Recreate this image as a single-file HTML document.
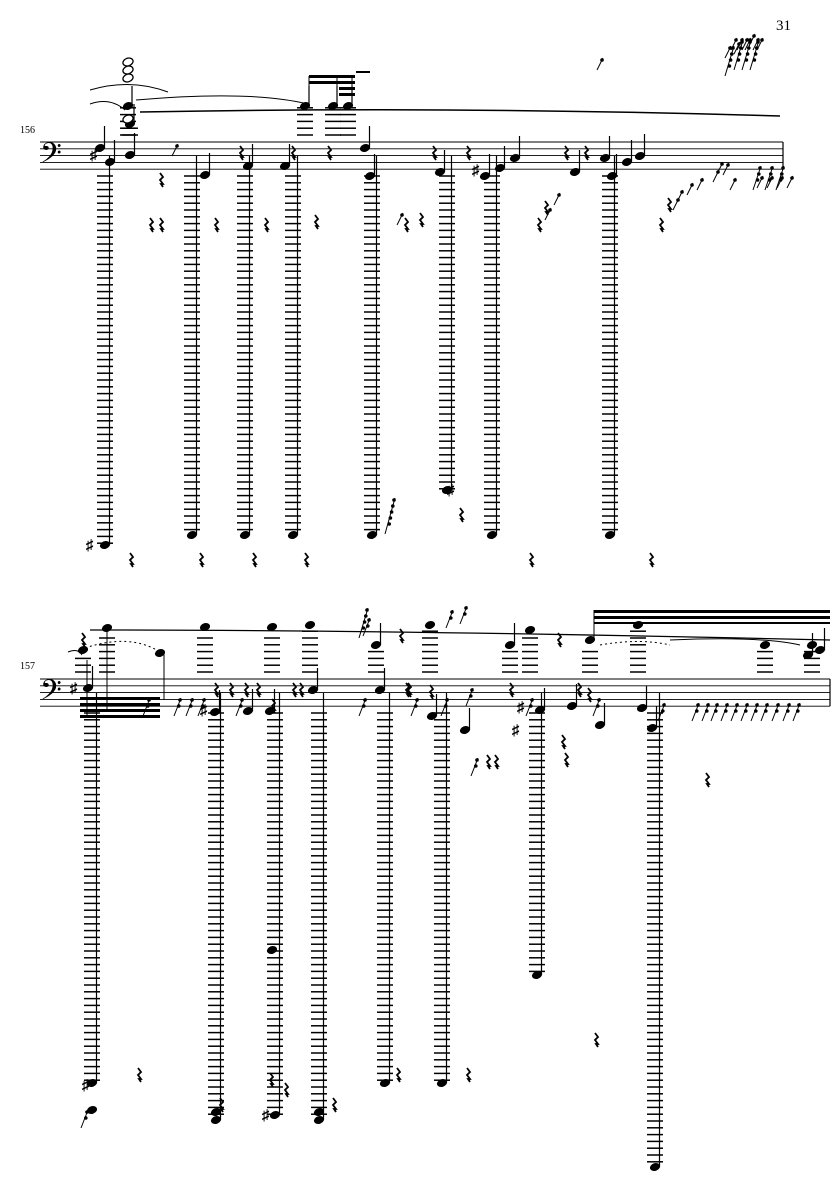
<!DOCTYPE html>
<html><head><meta charset="utf-8"><style>
body{margin:0;background:#fff;width:835px;height:1181px;overflow:hidden}
svg{position:absolute;left:0;top:0}
text{font-family:"Liberation Serif",serif;fill:#000}
</style></head><body>
<svg id="s" width="835" height="1181" viewBox="0 0 835 1181">
<text x="776" y="30" font-size="15">31</text>
<text x="20" y="133" font-size="10">156</text>
<text x="20" y="669" font-size="10">157</text>
<text x="40" y="168" font-size="34">𝄢</text>
<text x="40" y="705" font-size="34">𝄢</text>
</svg>
<script>
var s=document.getElementById('s'),h='';
function L(x1,y1,x2,y2,w){h+='<line x1="'+x1+'" y1="'+y1+'" x2="'+x2+'" y2="'+y2+'" stroke="#000" stroke-width="'+(w||1)+'"/>';}
function N(x,y,open){h+='<ellipse cx="'+x+'" cy="'+y+'" rx="5.2" ry="3.8" transform="rotate(-20 '+x+' '+y+')" '+(open?'fill="#fff" stroke="#000" stroke-width="1.3"':'fill="#000"')+'/>';}
function R(x,y){h+='<path d="M'+x+' '+(y-7)+' l3 4 l-3 3 l3 4 l-2 0 l2 3" stroke="#000" stroke-width="1.8" fill="none"/>';}
function E(x,y,n){for(var i=0;i<n;i++){h+='<circle cx="'+(x+2-i*1.2)+'" cy="'+(y+i*6)+'" r="1.8"/>';}L(x+3,y-2,x-2-n,y+n*6+4,1);}
function T(x,y){h+='<text x="'+x+'" y="'+y+'" font-size="15" font-weight="bold">♯</text>';}
[[142,40,783],[679,40,830]].forEach(function(a){for(var i=0;i<5;i++)L(a[1],a[0]+i*6.8,a[2],a[0]+i*6.8,0.9);L(a[2],a[0],a[2],a[0]+27.2,1.2);});
function DC(x,top,bot){for(var y=top;y<=bot;y+=6.8)L(x-8,y,x+8,y,1.5);N(x,bot);L(x+4.5,bot,x+4.5,top-20,1.2);}
[[105,545],[192,535],[245,535],[293,535],[372,535],[447,490],[492,535],[610,535]].forEach(function(c){DC(c[0],176,c[1]);});
[[92,1083],[216,1120],[275,1115],[319,1120],[385,1083],[442,1083],[537,975],[655,1167]].forEach(function(c){DC(c[0],713,c[1]);});
N(272,950);N(92,1110);N(216,1112);N(319,1112);
T(86,550);T(447,495);T(82,1090);T(262,1120);
function UC(x,top,bot,st){for(var y=bot;y>=top;y-=6.8)L(x-8,y,x+8,y,1.5);N(x,top);L(x+4,top,x+4,top-(st||20),1.2);}
UC(128,106,135);UC(130,124,135);
N(128,62,true);N(128,70,true);N(128,78,true);N(128,119,true);
UC(305,106,135,0);UC(333,106,135,0);UC(348,106,135,0);
h+='<rect x="309" y="75" width="46" height="3"/><rect x="309" y="81" width="46" height="3"/><rect x="339" y="87" width="16" height="3"/><rect x="339" y="93" width="16" height="3"/><rect x="356" y="71" width="14" height="2"/>';
L(309,76,309,104);L(337,76,337,104);L(352,76,352,104);
h+='<path d="M90 90 Q130 78 168 92" stroke="#000" fill="none"/><path d="M90 104 Q110 97 125 110" stroke="#000" fill="none"/><path d="M136 100 Q250 90 308 104" stroke="#000" fill="none"/><path d="M140 112 Q450 106 780 116" stroke="#000" fill="none" stroke-width="1.5"/>';
[[100,148],[110,162],[130,155],[205,175],[248,166],[285,166],[365,148],[370,176],[440,172],[485,176],[500,168],[515,158],[575,172],[605,158],[612,176],[627,162],[640,156]].forEach(function(p){N(p[0],p[1]);L(p[0]+4.5,p[1],p[0]+4.5,p[1]-22,1.2);});
T(90,160);T(472,175);
[[160,180],[150,225],[160,225],[215,225],[265,225],[315,222],[240,153],[292,153],[328,153],[433,153],[467,153],[565,153],[585,153],[405,225],[420,220],[538,225],[545,208],[660,225],[668,205]].forEach(function(p){R(p[0],p[1]);});
[[175,146],[400,215],[548,210],[557,195],[676,200],[680,192],[690,185],[700,180],[716,172],[720,164],[726,165],[733,180],[600,60],[745,40],[752,36],[737,44],[728,48],[734,40],[740,40],[748,40],[756,40],[760,40],[760,178],[770,178],[780,178],[790,178]].forEach(function(p){E(p[0],p[1],1);});
E(740,42,4);E(748,42,4);E(756,42,4);E(731,48,4);E(758,168,3);E(770,168,3);E(781,168,3);E(392,500,5);
R(460,515);R(130,560);R(200,560);R(253,560);R(305,560);R(530,560);R(650,560);
[[83,650],[107,628],[205,627],[272,627],[310,625],[376,645],[430,625],[510,645],[530,630],[590,640],[638,625],[765,645],[812,645]].forEach(function(c){for(var y=672;y>=c[1]+6;y-=6.8)L(c[0]-8,y,c[0]+8,y,1.5);N(c[0],c[1]);});
[[376,645],[510,645]].forEach(function(c){L(c[0]+4.5,c[1],c[0]+4.5,c[1]-22,1.2);});
L(87,660,87,718);L(107,628,107,710);L(594,640,594,610);
h+='<rect x="80" y="697" width="80" height="3"/><rect x="80" y="703" width="80" height="3"/><rect x="80" y="709" width="80" height="3"/><rect x="80" y="715" width="80" height="3"/>';
h+='<rect x="594" y="610" width="236" height="3"/><rect x="594" y="616" width="236" height="3"/><rect x="594" y="622" width="236" height="2"/>';
h+='<path d="M85 648 Q130 633 160 652" stroke="#000" fill="none" stroke-dasharray="2 3"/><path d="M90 630 Q400 630 830 640" stroke="#000" fill="none" stroke-width="1.3"/><path d="M68 652 Q78 648 82 655" stroke="#000" fill="none"/><path d="M600 645 Q640 638 670 645" stroke="#000" fill="none" stroke-dasharray="2 3"/><path d="M670 640 Q760 636 800 645" stroke="#000" fill="none"/>';
N(160,653);L(164,653,164,700);
[[88,688],[215,712],[248,711],[270,711],[313,690],[380,690],[432,716],[465,730],[540,710],[572,706],[600,725],[642,708],[652,728],[808,655],[820,650]].forEach(function(p){N(p[0],p[1]);L(p[0]+4.5,p[1],p[0]+4.5,p[1]-22,1.2);});
T(70,693);T(200,715);T(517,712);T(512,735);
[[82,640],[215,690],[230,690],[245,690],[257,690],[293,690],[300,690],[406,690],[400,636],[408,690],[558,640],[578,690],[588,695],[510,690],[562,742],[706,780],[430,692],[487,762],[495,762],[272,706],[565,760],[138,1075],[220,1105],[285,1090],[333,1105],[397,1075],[467,1075],[595,1040],[270,1080]].forEach(function(p){R(p[0],p[1]);});
[[147,700],[178,700],[190,700],[202,700],[240,700],[363,700],[415,700],[445,700],[470,690],[530,700],[597,700],[662,705],[696,705],[706,705],[715,705],[725,705],[735,705],[745,705],[755,705],[765,705],[776,705],[787,705],[797,705],[367,620],[450,612],[464,608],[475,760],[85,1112],[675,1195]].forEach(function(p){E(p[0],p[1],2);});
E(672,1190,1);E(688,1190,3);E(365,610,4);
s.insertAdjacentHTML('beforeend',h);
</script>
</body></html>
